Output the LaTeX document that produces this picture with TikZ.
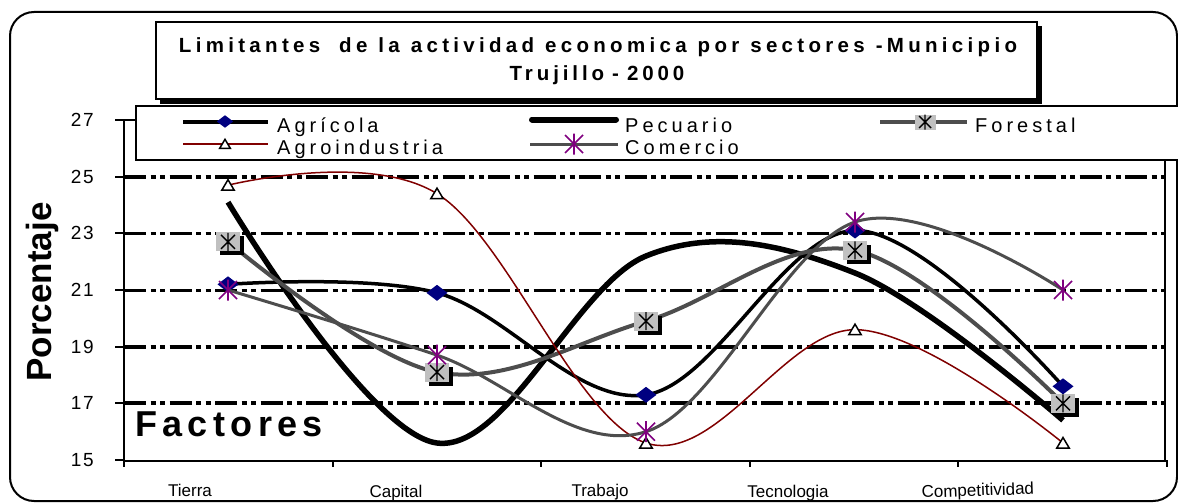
\documentclass[tikz,border=0pt]{standalone}
\usepackage{fontspec}
\setmainfont{Liberation Sans}
\newfontfamily\fttlA[LetterSpace=21]{Liberation Sans}
\newfontfamily\fttlB[LetterSpace=19]{Liberation Sans}
\newfontfamily\fleg[LetterSpace=20]{Liberation Sans}
\newfontfamily\ftick[LetterSpace=10]{Liberation Sans}
\newfontfamily\ffact[LetterSpace=15]{Liberation Sans}
\definecolor{navyc}{HTML}{000080}
\definecolor{purplec}{HTML}{800080}
\definecolor{redc}{HTML}{800000}
\definecolor{grayl}{HTML}{C0C0C0}
\definecolor{grayd}{HTML}{4D4D4D}
\newcommand\Y[1]{460-(#1-15)*28.333}
\newcommand\wsp{\hskip 11pt\relax}
\tikzset{
  gridln/.style={line width=#1, dash pattern=on 22pt off 4.5pt on 5pt off 4.5pt on 5pt off 4.5pt},
  agri/.style={line width=3.5pt, black, line join=round},
  pecu/.style={line width=5.5pt, black, line join=round},
  fore/.style={line width=4pt, grayd, line join=round},
  agro/.style={line width=1.5pt, redc, line join=round},
  come/.style={line width=3pt, grayd, line join=round},
  pics/diam/.style={code={\fill[navyc] (-10.5,0)--(0,-8)--(10.5,0)--(0,8)--cycle;}},
  pics/tri/.style={code={\filldraw[fill=white, draw=black, line width=1.5pt] (0,-5.5)--(6.2,5)--(-6.2,5)--cycle;}},
  pics/ast/.style={code={\draw[purplec, line width=1.6pt] (-9,-9)--(9,9) (-9,9)--(9,-9) (0,-10.5)--(0,10.5);}},
  pics/sq/.style={code={\fill[black] (-8,-5.5) rectangle (16,13.5); \fill[grayl] (-12,-9.5) rectangle (12,9.5); \draw[black, line width=1.4pt] (-7,-7)--(7,7) (-7,7)--(7,-7) (0,-9)--(0,9);}},
  pics/sqL/.style={code={\fill[grayl] (-10.5,-7.5) rectangle (10.5,7.5); \draw[black, line width=1.4pt] (-6,-6)--(6,6) (-6,6)--(6,-6) (0,-7.5)--(0,7.5);}},
  leg/.style={font={\fleg\fontsize{20}{22}\selectfont}, inner sep=0pt, anchor=base west},
  tick/.style={font={\ftick\fontsize{19}{21}\selectfont}, inner sep=0pt, anchor=east},
  cat/.style={font={\fontsize{17}{19}\selectfont}, inner sep=0pt, anchor=base},
}
\begin{document}
\begin{tikzpicture}[x=1pt,y=-1pt]
\useasboundingbox (0,0) rectangle (1178,503);
\fill[white] (0,0) rectangle (1178,503);
% outer frame
\draw[line width=2pt, rounded corners=24pt] (10,12) rectangle (1177,501);
% plot area border
\draw[line width=1.5pt] (124,120) -- (1165,120) -- (1165,460);
% gridlines
\draw[gridln=4pt] (124,{\Y{25}}) -- (1165,{\Y{25}});
\draw[gridln=3pt] (124,{\Y{23}}) -- (1165,{\Y{23}});
\draw[gridln=3pt] (124,{\Y{21}}) -- (1165,{\Y{21}});
\draw[gridln=4pt] (124,{\Y{19}}) -- (1165,{\Y{19}});
\draw[gridln=4pt] (124,{\Y{17}}) -- (1165,{\Y{17}});
% axes
\draw[line width=2pt] (124,120) -- (124,461) -- (1167,461);
\foreach \v in {15,17,...,27} {
  \draw[line width=2pt] (115,{\Y{\v}}) -- (124,{\Y{\v}});
  \node[tick] (t\v) at (94,{\Y{\v}}) {\v};
}
\foreach \xx in {124,332.6,541.2,749.8,958.4,1167} {
  \draw[line width=2pt] (\xx,460) -- (\xx,467);
}
% category labels
\node[cat] (cTi) at (190,496) {Tierra};
\node[cat] (cCa) at (396,497) {Capital};
\node[cat] (cTr) at (600,496) {Trabajo};
\node[cat] (cTe) at (788,497) {Tecnologia};
\node[cat, rotate=2] (cCo) at (978,496) {Competitividad};
% data coordinates
\coordinate (ag1) at (228,{\Y{21.2}});
\coordinate (ag2) at (437,{\Y{20.9}});
\coordinate (ag3) at (646,{\Y{17.3}});
\coordinate (ag4) at (855,{\Y{23.1}});
\coordinate (ag5) at (1063,{\Y{17.6}});
\coordinate (pe1) at (228,{\Y{24.1}});
\coordinate (pe2) at (437,{\Y{15.6}});
\coordinate (pe3) at (646,{\Y{22.2}});
\coordinate (pe4) at (855,{\Y{21.6}});
\coordinate (pe5) at (1063,{\Y{16.4}});
\coordinate (fo1) at (228,{\Y{22.7}});
\coordinate (fo2) at (437,{\Y{18.1}});
\coordinate (fo3) at (646,{\Y{19.9}});
\coordinate (fo4) at (855,{\Y{22.4}});
\coordinate (fo5) at (1063,{\Y{17.0}});
\coordinate (ai1) at (228,{\Y{24.7}});
\coordinate (ai2) at (437,{\Y{24.4}});
\coordinate (ai3) at (646,{\Y{15.6}});
\coordinate (ai4) at (855,{\Y{19.6}});
\coordinate (ai5) at (1063,{\Y{15.6}});
\coordinate (co1) at (228,{\Y{21.0}});
\coordinate (co2) at (437,{\Y{18.7}});
\coordinate (co3) at (646,{\Y{16.0}});
\coordinate (co4) at (855,{\Y{23.4}});
\coordinate (co5) at (1063,{\Y{21.0}});
% series
\draw[agri] plot[smooth, tension=0.6] coordinates {(ag1) (ag2) (ag3) (ag4) (ag5)};
\foreach \i in {1,...,5} {\pic at (ag\i) {diam};}
\draw[pecu] plot[smooth, tension=0.6] coordinates {(pe1) (pe2) (pe3) (pe4) (pe5)};
\draw[fore] plot[smooth, tension=0.6] coordinates {(fo1) (fo2) (fo3) (fo4) (fo5)};
\foreach \i in {1,...,5} {\pic at (fo\i) {sq};}
\draw[agro] plot[smooth, tension=0.6] coordinates {(ai1) (ai2) (ai3) (ai4) (ai5)};
\foreach \i in {1,...,5} {\pic at (ai\i) {tri};}
\draw[come] plot[smooth, tension=0.6] coordinates {(co1) (co2) (co3) (co4) (co5)};
\foreach \i in {1,...,5} {\pic at (co\i) {ast};}
% axis titles
\node[font={\fontsize{35}{37}\selectfont\bfseries}, rotate=90, inner sep=0pt, anchor=base] (ylab) at (51,292) {Porcentaje};
\node[font={\ffact\fontsize{36}{38}\selectfont\bfseries}, inner sep=0pt, anchor=base west] (xlab) at (135,436) {Factores};
% legend
\draw[line width=2pt, fill=white] (136,105.5) rectangle (1195,160);
\draw[line width=4pt] (183,121.5) -- (268,121.5); \pic[scale=0.78] at (225,121.5) {diam};
\node[leg] (lAg) at (277,132) {Agrícola};
\draw[line width=1.5pt, redc] (183,144) -- (268,144); \pic[scale=0.85] at (225,144) {tri};
\node[leg] (lAi) at (277,154) {Agroindustria};
\draw[line width=6pt, line cap=round] (532,119.5) -- (616,119.5);
\node[leg] (lPe) at (625,132) {Pecuario};
\draw[line width=3pt, grayd] (530,144) -- (618,144); \pic at (574,144) {ast};
\node[leg] (lCo) at (625,154) {Comercio};
\draw[line width=3.5pt, grayd] (880,122) -- (967,122); \pic at (925,122) {sqL};
\node[leg] (lFo) at (975,132) {Forestal};
% title box
\fill[black] (160,26) rectangle (1041.5,103.5);
\draw[line width=2pt, fill=white] (155.7,21.7) rectangle (1036.7,99.3);
\node[font={\fttlA\fontsize{20.5}{22}\selectfont\bfseries}, inner sep=0pt, anchor=base] (tit1) at (598,53) {Limitantes\hskip 19pt de\wsp la\wsp actividad\wsp economica\wsp por\wsp sectores\wsp -Municipio};
\node[font={\fttlB\fontsize{20.5}{22}\selectfont\bfseries}, inner sep=0pt, anchor=base] (tit2) at (597,81) {Trujillo\hskip 8pt -\hskip 8pt 2000};
\end{tikzpicture}
\end{document}
